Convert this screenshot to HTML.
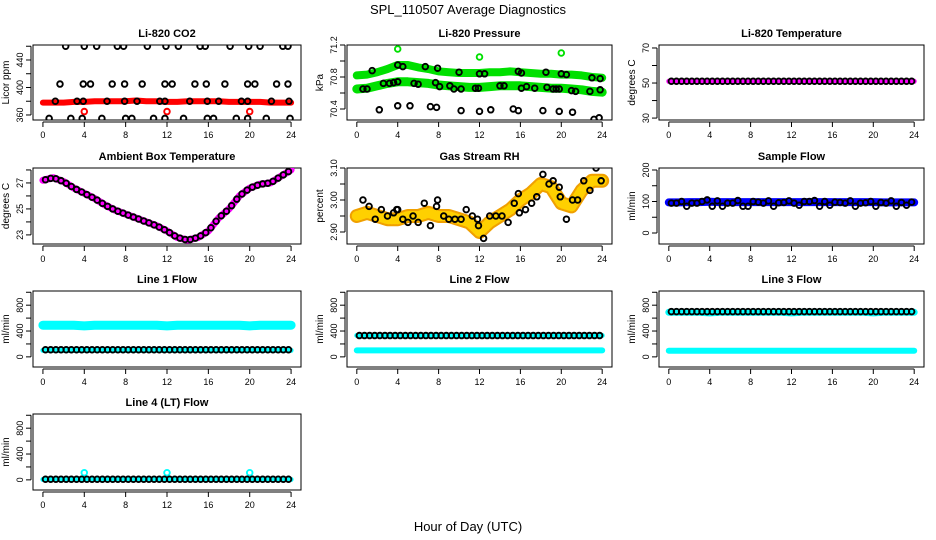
<!DOCTYPE html>
<html><head><meta charset="utf-8"><style>
html,body{margin:0;padding:0;background:#fff;}
svg{display:block;font-family:"Liberation Sans",sans-serif;}
</style></head><body>
<svg id="chart" width="936" height="540" viewBox="0 0 936 540" xmlns="http://www.w3.org/2000/svg">
<text x="468" y="14" text-anchor="middle" font-size="13">SPL_110507  Average Diagnostics</text>
<text x="468" y="531" text-anchor="middle" font-size="13">Hour of Day (UTC)</text>
</svg>
<script>
// ---------- data ----------
const hourly = [0,1,2,3,4,5,6,7,8,9,10,11,12,13,14,15,16,17,18,19,20,21,22,23,24];
const halfHours = [0.25,0.75,1.25,1.75,2.25,2.75,3.25,3.75,4.25,4.75,5.25,5.75,6.25,6.75,7.25,7.75,8.25,8.75,9.25,9.75,10.25,10.75,11.25,11.75,12.25,12.75,13.25,13.75,14.25,14.75,15.25,15.75,16.25,16.75,17.25,17.75,18.25,18.75,19.25,19.75,20.25,20.75,21.25,21.75,22.25,22.75,23.25,23.75];

// CO2
const co2Band = [378,378,378,379,379,380,380,380,380,381,380,380,379,379,380,380,380,380,379,379,379,379,378,378,378];
const co2HiH = [2.2,4.0,5.2,7.2,7.8,10.1,11.9,13.1,15.2,15.7,18.1,19.9,21,23.2,23.7];
const co2HiV = [460,460,460,460,460,460,460,460,460,460,460,460,460,460,460];
const co2MidH = [1.65,3.9,4.6,6.7,7.9,9.6,11.8,12.5,14.7,15.8,17.6,19.8,20.5,22.6,23.7];
const co2MidV = [405,405,405,405,405,405,405,405,405,405,405,405,405,405,405];
const co2BandH = [1.2,3.3,3.9,6.2,7.9,9.1,11.3,11.8,14.2,15.9,17,19.2,19.8,22.1,23.8];
const co2BandV = [380,380,380,380,380,380,380,380,380,380,380,380,380,380,380];
const co2LoH = [0.6,2.7,3.8,5.7,8,8.6,10.7,11.8,13.6,15.9,16.5,18.7,19.8,21.6,23.9];
const co2LoV = [355,355,355,355,355,355,355,355,355,355,355,355,355,355,355];
const co2RedH = [4,12,20];
const co2RedV = [365,365,365];

// Pressure
const presUpper = [70.82,70.83,70.86,70.90,70.95,70.95,70.92,70.90,70.87,70.86,70.85,70.85,70.85,70.86,70.86,70.87,70.86,70.85,70.84,70.84,70.83,70.83,70.82,70.80,70.79];
const presLower = [70.65,70.66,70.69,70.72,70.74,70.74,70.73,70.72,70.70,70.69,70.68,70.67,70.67,70.68,70.69,70.69,70.69,70.68,70.67,70.66,70.66,70.65,70.64,70.62,70.61];
const presLowH = [2.2,4,5.2,7.2,7.8,10.2,12,13.1,15.3,15.8,18.2,19.8,21.1,23.2,23.7];
const presLowV = [70.39,70.44,70.44,70.43,70.42,70.38,70.37,70.39,70.40,70.38,70.38,70.37,70.36,70.27,70.29];
const presMidH = [0.6,1.0,2.6,3.2,3.6,4.0,5.6,6.0,7.7,8.1,9.1,9.5,10.2,11.6,11.9,14.0,14.4,16.1,16.6,17.4,18.6,19.2,19.5,19.8,21.0,21.4,22.8,23.8];
const presMidV = [70.65,70.65,70.72,70.72,70.73,70.74,70.72,70.71,70.73,70.68,70.69,70.65,70.65,70.66,70.66,70.69,70.69,70.66,70.68,70.66,70.67,70.65,70.65,70.65,70.63,70.62,70.62,70.64];
const presTopH = [1.5,4.0,4.5,6.7,7.9,10.0,12.0,12.5,15.8,16.1,18.5,20.0,20.5,23.0,23.8];
const presTopV = [70.88,70.95,70.93,70.93,70.91,70.86,70.84,70.84,70.87,70.85,70.86,70.84,70.83,70.79,70.78];
const presGreenH = [4,12,20];
const presGreenV = [71.15,71.05,71.1];

// Li-820 temperature
const liTemp = [51,51,51,51,51,51,51,51,51,51,51,51,51,51,51,51,51,51,51,51,51,51,51,51,51];

// Ambient box temperature
const ambTemp = [27.2,27.4,27.1,26.6,26.2,25.8,25.3,24.9,24.6,24.3,24.0,23.7,23.3,22.8,22.6,22.8,23.3,24.3,25.0,26.0,26.6,26.9,27.0,27.5,28.0];

// Gas stream RH
const rhBand = [2.95,2.96,2.95,2.94,2.94,2.95,2.95,2.96,2.95,2.95,2.94,2.93,2.90,2.93,2.95,2.97,3.00,3.02,3.05,3.04,2.99,2.98,3.03,3.06,3.06];
const rhPtsH = [0.6,1.2,1.8,2.4,3.0,3.6,3.9,4.0,4.5,5.0,5.5,6.0,6.6,7.2,7.8,7.9,8.5,9.0,9.6,10.2,10.7,11.3,11.8,11.9,12.4,13.0,13.6,14.2,14.8,15.4,15.8,15.9,16.5,17.1,17.6,18.2,18.8,19.2,19.8,19.9,20.5,21.1,21.6,22.2,22.8,23.4,23.9];
const rhPtsV = [3.00,2.98,2.94,2.97,2.95,2.96,2.97,2.97,2.94,2.93,2.95,2.93,2.99,2.92,2.98,3.00,2.95,2.94,2.94,2.94,2.97,2.95,2.94,2.92,2.88,2.95,2.95,2.95,2.93,2.99,3.02,2.96,2.97,2.99,3.01,3.08,3.05,3.06,3.04,3.01,2.94,3.00,3.00,3.06,3.03,3.10,3.06];

// Sample flow
const sampleBand = [97,97,98,98,99,98,98,98,98,98,98,98,98,98,98,98,98,98,98,98,98,97,97,97,97];
const samplePtsV = [95,95,100,85,95,95,100,105,85,102,85,95,95,103,85,85,100,98,95,102,85,96,97,102,95,88,100,100,103,85,100,88,98,97,95,102,85,95,96,100,85,97,95,102,85,97,88,98];

// Line flows
const line1Hi = [490,490,490,490,480,490,490,490,490,490,490,490,480,490,490,490,490,490,490,490,480,490,490,490,490];
const line1Lo = [100,100,100,100,100,100,100,100,100,100,100,100,100,100,100,100,100,100,100,100,100,100,100,100,100];
const line1Pts = [110,110,110,110,110,110,110,110,110,110,110,110,110,110,110,110,110,110,110,110,110,110,110,110,110,110,110,110,110,110,110,110,110,110,110,110,110,110,110,110,110,110,110,110,110,110,110,110];
const line2Hi = [330,330,330,330,330,330,330,330,330,330,330,330,330,330,330,330,330,330,330,330,330,330,330,330,330];
const line2Lo = [100,100,100,100,100,100,100,100,100,100,100,100,100,100,100,100,100,100,100,100,100,100,100,100,100];
const line2Pts = [330,330,330,330,330,330,330,330,330,330,330,330,330,330,330,330,330,330,330,330,330,330,330,330,330,330,330,330,330,330,330,330,330,330,330,330,330,330,330,330,330,330,330,330,330,330,330,330];
const line3Hi = [690,690,690,690,680,690,690,690,690,690,690,690,680,690,690,690,690,690,690,690,680,690,690,690,690];
const line3Lo = [95,95,95,95,95,95,95,95,95,95,95,95,95,95,95,95,95,95,95,95,95,95,95,95,95];
const line3Pts = [700,700,700,700,700,700,700,700,700,700,700,700,700,700,700,700,700,700,700,700,700,700,700,700,700,700,700,700,700,700,700,700,700,700,700,700,700,700,700,700,700,700,700,700,700,700,700,700];
const line4Lo = [5,5,5,5,5,5,5,5,5,5,5,5,5,5,5,5,5,5,5,5,5,5,5,5,5];
const line4OutH = [4,12,20];
const line4OutV = [110,110,110];
const line4Pts = [10,10,10,10,10,10,10,10,10,10,10,10,10,10,10,10,10,10,10,10,10,10,10,10,10,10,10,10,10,10,10,10,10,10,10,10,10,10,10,10,10,10,10,10,10,10,10,10];

const xTicks = [0,4,8,12,16,20,24];

// ---------- drawing ----------
const svg = document.getElementById('chart');
const NS = 'http://www.w3.org/2000/svg';
function el(tag, attrs, parent){
  const e = document.createElementNS(NS, tag);
  for (const k in attrs) e.setAttribute(k, attrs[k]);
  (parent || svg).appendChild(e);
  return e;
}
const cols = [[33,301],[347,612],[659,924]];
const rows = [[45,120],[168,244],[291,367],[414,490]];

function makePanel(name, c, r, ymin, ymax, yTicks, yLabels, title, ylab){
  const x0 = cols[c][0], x1 = cols[c][1], y0 = rows[r][0], y1 = rows[r][1];
  const g = el('g', {});
  
  
  const sx = h => x0 + (h + 0.96) / 25.92 * (x1 - x0);
  const sy = v => y1 - (v - ymin) / (ymax - ymin) * (y1 - y0);
  const box = el('rect', {x:x0, y:y0, width:x1-x0, height:y1-y0, fill:'none', stroke:'#000', 'stroke-width':1}, g);
  
  
  const t = el('text', {x:(x0+x1)/2, y:y0-8, 'text-anchor':'middle', 'font-size':11, 'font-weight':'bold'}, g);
  t.textContent = title;
  
  
  const yl = el('text', {x:0, y:0, 'text-anchor':'middle', 'font-size':10, transform:`translate(${x0-24},${(y0+y1)/2}) rotate(-90)`}, g);
  yl.textContent = ylab;
  
  
  const xa = el('g', {}, g);
  
  
  el('line', {x1:sx(xTicks[0]), x2:sx(xTicks[xTicks.length-1]), y1:y1+2, y2:y1+2, stroke:'#000'}, xa);
  xTicks.forEach(h => {
    el('line', {x1:sx(h), x2:sx(h), y1:y1+2, y2:y1+7, stroke:'#000'}, xa);
    const tl = el('text', {x:sx(h), y:y1+18, 'text-anchor':'middle', 'font-size':9}, xa);
    tl.textContent = h;
    
    
  });
  const ya = el('g', {}, g);
  
  
  el('line', {x1:x0-2, x2:x0-2, y1:sy(yTicks[0]), y2:sy(yTicks[yTicks.length-1]), stroke:'#000'}, ya);
  yTicks.forEach(v => {
    el('line', {x1:x0-7, x2:x0-2, y1:sy(v), y2:sy(v), stroke:'#000'}, ya);
  });
  yLabels.forEach(v => {
    const tl = el('text', {x:0, y:0, 'text-anchor':'middle', 'font-size':9, transform:`translate(${x0-10},${sy(v)}) rotate(-90)`}, ya);
    tl.textContent = v;
    
    
  });
  const clipId = 'clip-' + name;
  const cp = el('clipPath', {id:clipId}, g);
  el('rect', {x:x0, y:y0, width:x1-x0, height:y1-y0}, cp);
  const plot = el('g', {'clip-path':`url(#${clipId})`}, g);
  return {sx, sy, plot, name};
}

function band(p, hs, vs, color, width, label){
  const pts = hs.map((h,i) => p.sx(h).toFixed(1) + ',' + p.sy(vs[i]).toFixed(1)).join(' ');
  const l = el('polyline', {points:pts, fill:'none', stroke:color, 'stroke-width':width, 'stroke-linejoin':'round', 'stroke-linecap':'round'}, p.plot);
  
  
  return l;
}
function dots(p, hs, vs, color, label, r){
  const g = el('g', {}, p.plot);
  
  
  hs.forEach((h,i) => {
    const c = el('circle', {cx:p.sx(h), cy:p.sy(vs[i]), r:r||2.8, fill:'none', stroke:color, 'stroke-width':1.9}, g);
    
    
  });
}

// CO2
let p = makePanel('co2', 0, 0, 352.7, 461.8, [360,380,400,420,440,460], [360,400,440], 'Li-820 CO2', 'Licor ppm');
band(p, hourly, co2Band, '#f00', 6, 'band');
dots(p, co2RedH, co2RedV, '#f00', 'outliers');
dots(p, co2HiH, co2HiV, '#000', 'high-points');
dots(p, co2MidH, co2MidV, '#000', 'mid-points');
dots(p, co2BandH, co2BandV, '#000', 'band-points');
dots(p, co2LoH, co2LoV, '#000', 'low-points');

// Pressure
p = makePanel('pressure', 1, 0, 70.2625, 71.2, [70.4,70.6,70.8,71.0,71.2], ['70.4','70.8','71.2'], 'Li-820 Pressure', 'kPa');
band(p, hourly, presUpper, '#00e000', 8, 'upper-band');
band(p, hourly, presLower, '#00e000', 9, 'lower-band');
dots(p, presGreenH, presGreenV, '#00e000', 'outliers');
dots(p, presLowH, presLowV, '#000', 'low-points');
dots(p, presMidH, presMidV, '#000', 'mid-points');
dots(p, presTopH, presTopV, '#000', 'top-points');

// Li-820 temperature
p = makePanel('li820-temp', 2, 0, 28.9, 71.7, [30,40,50,60,70], [30,50,70], 'Li-820 Temperature', 'degrees C');
band(p, hourly, liTemp, '#f0f', 5, 'line');
dots(p, halfHours, halfHours.map((h,i)=>liTemp[Math.round(h)]), '#000', 'points');

// Ambient
p = makePanel('ambient-temp', 0, 1, 22.3, 28.15, [23,24,25,26,27,28], [23,25,27], 'Ambient Box Temperature', 'degrees C');
band(p, hourly, ambTemp, '#f0f', 7, 'line');
dots(p, halfHours, halfHours.map(h=>{const i=Math.floor(h);return ambTemp[i]+(ambTemp[i+1]-ambTemp[i])*(h-i);}), '#000', 'points');

// RH
p = makePanel('rh', 1, 1, 2.8625, 3.10, [2.90,2.95,3.00,3.05,3.10], ['2.90','3.00','3.10'], 'Gas Stream RH', 'percent');
band(p, hourly, rhBand, '#f0a000', 14, 'band');
band(p, hourly, rhBand, '#ffd000', 10, 'band-speckle').setAttribute('stroke-dasharray','1 2');
dots(p, rhPtsH, rhPtsV, '#000', 'points');

// Sample flow
p = makePanel('sample-flow', 2, 1, -34.9, 206.3, [0,50,100,150,200], [0,100,200], 'Sample Flow', 'ml/min');
band(p, hourly, sampleBand, '#0000ff', 8, 'band');
dots(p, halfHours, samplePtsV, '#000', 'points');

// Line flows
const flowTicks = [0,200,400,600,800,1000], flowLabels = [0,400,800];
p = makePanel('line1-flow', 0, 2, -156.9, 1019.6, flowTicks, flowLabels, 'Line 1 Flow', 'ml/min');
band(p, hourly, line1Hi, '#00ffff', 9, 'high-band');
band(p, hourly, line1Lo, '#00ffff', 5, 'low-band');
dots(p, halfHours, line1Pts, '#000', 'points');

p = makePanel('line2-flow', 1, 2, -156.9, 1019.6, flowTicks, flowLabels, 'Line 2 Flow', 'ml/min');
band(p, hourly, line2Hi, '#00ffff', 5, 'high-band');
band(p, hourly, line2Lo, '#00ffff', 6, 'low-band');
dots(p, halfHours, line2Pts, '#000', 'points');

p = makePanel('line3-flow', 2, 2, -156.9, 1019.6, flowTicks, flowLabels, 'Line 3 Flow', 'ml/min');
band(p, hourly, line3Hi, '#00ffff', 7, 'high-band');
band(p, hourly, line3Lo, '#00ffff', 6, 'low-band');
dots(p, halfHours, line3Pts, '#000', 'points');

p = makePanel('line4-flow', 0, 3, -156.9, 1019.6, flowTicks, flowLabels, 'Line 4 (LT) Flow', 'ml/min');
band(p, hourly, line4Lo, '#00ffff', 5, 'band');
dots(p, line4OutH, line4OutV, '#00ffff', 'outliers');
dots(p, halfHours, line4Pts, '#000', 'points');
</script>
</body></html>
